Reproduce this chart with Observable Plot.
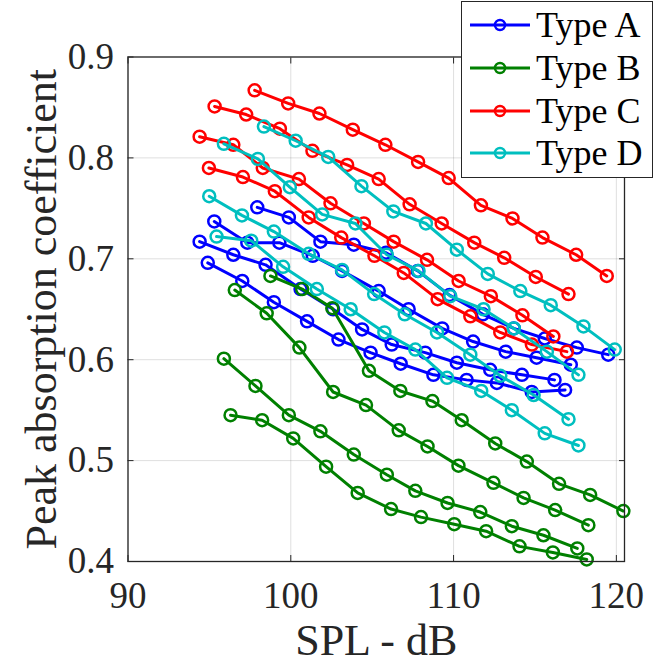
<!DOCTYPE html>
<html>
<head>
<meta charset="utf-8">
<script src="https://cdn.jsdelivr.net/npm/d3@7"></script>
<script src="https://cdn.jsdelivr.net/npm/@observablehq/plot@0.6"></script>
<style>
body{margin:0;background:#fff;}
#wrap{position:relative;width:654px;height:670px;}
#chart svg, #chart svg text{font-family:"Liberation Serif",serif !important;}
#legend{position:absolute;left:461px;top:1px;width:192px;height:177px;border:1.3px solid #262626;background:#fff;box-sizing:border-box;font-family:"Liberation Serif",serif;color:#000;}
.row{position:absolute;left:0;height:40px;display:flex;align-items:center;white-space:nowrap;}
.row span{font-size:36px;margin-left:4px;}
</style>
</head>
<body>
<div id="wrap"><div id="chart"></div><div id="legend"></div></div>
<script>
const types = ["Type A", "Type B", "Type C", "Type D"];
const colors = ["#0000ff", "#008000", "#ff0000", "#00bfbf"];
const xTicks = [90, 100, 110, 120];
const yTicks = [0.4, 0.5, 0.6, 0.7, 0.8, 0.9];

// Type A (blue)
const typeA_spl = [
  [97.94, 99.88, 101.82, 103.87, 105.85, 107.8, 109.75, 111.8, 113.7, 115.6, 117.57, 119.5],
  [95.3, 97.33, 99.3, 101.35, 103.15, 105.4, 107.24, 109.3, 111.2, 113.2, 115.1, 117.2],
  [94.4, 96.47, 98.45, 100.6, 102.6, 104.38, 106.2, 108.26, 110.2, 112.25, 114.2, 116.2],
  [94.9, 97.02, 98.96, 101.0, 102.93, 104.9, 106.75, 108.76, 110.8, 112.66, 114.8, 116.85]
];
const typeA_abs = [
  [0.751, 0.741, 0.717, 0.714, 0.706, 0.688, 0.664, 0.645, 0.631, 0.621, 0.612, 0.605],
  [0.737, 0.716, 0.716, 0.703, 0.688, 0.668, 0.650, 0.631, 0.618, 0.608, 0.602, 0.595],
  [0.717, 0.704, 0.694, 0.670, 0.650, 0.630, 0.615, 0.607, 0.597, 0.590, 0.585, 0.580],
  [0.696, 0.678, 0.657, 0.638, 0.620, 0.607, 0.596, 0.585, 0.580, 0.577, 0.568, 0.570]
];
// Type B (green)
const typeB_spl = [
  [98.75, 100.7, 102.55, 104.8, 106.73, 108.7, 110.5, 112.56, 114.5, 116.48, 118.39, 120.43],
  [96.56, 98.52, 100.53, 102.6, 104.62, 106.63, 108.4, 110.3, 112.45, 114.3, 116.24, 118.28],
  [95.89, 97.83, 99.88, 101.82, 103.87, 105.9, 107.65, 109.63, 111.64, 113.58, 115.52, 117.6],
  [96.3, 98.24, 100.15, 102.17, 104.11, 106.16, 108.0, 110.04, 112.0, 114.05, 116.1, 118.18]
];
const typeB_abs = [
  [0.683, 0.670, 0.651, 0.589, 0.569, 0.559, 0.540, 0.517, 0.499, 0.477, 0.466, 0.450],
  [0.669, 0.646, 0.612, 0.568, 0.555, 0.530, 0.514, 0.495, 0.478, 0.463, 0.451, 0.436],
  [0.601, 0.574, 0.545, 0.529, 0.506, 0.486, 0.470, 0.458, 0.449, 0.435, 0.426, 0.413],
  [0.545, 0.540, 0.522, 0.494, 0.468, 0.452, 0.444, 0.437, 0.430, 0.415, 0.409, 0.402]
];
// Type C (red)
const typeC_spl = [
  [97.78, 99.84, 101.76, 103.81, 105.81, 107.82, 109.7, 111.68, 113.62, 115.46, 117.53, 119.41],
  [95.32, 97.26, 99.33, 101.33, 103.46, 105.4, 107.3, 109.27, 111.27, 113.11, 115.05, 117.06],
  [94.4, 96.47, 98.28, 100.5, 102.44, 104.49, 106.32, 108.37, 110.31, 112.29, 114.23, 116.13],
  [94.97, 97.06, 99.02, 101.1, 103.1, 105.14, 106.94, 109.02, 111.03, 112.87, 114.81, 116.96]
];
const typeC_abs = [
  [0.867, 0.854, 0.844, 0.828, 0.813, 0.796, 0.780, 0.753, 0.740, 0.721, 0.704, 0.683],
  [0.851, 0.843, 0.829, 0.807, 0.793, 0.779, 0.754, 0.735, 0.716, 0.701, 0.682, 0.665],
  [0.821, 0.813, 0.790, 0.779, 0.755, 0.735, 0.717, 0.699, 0.678, 0.663, 0.644, 0.623],
  [0.790, 0.781, 0.767, 0.741, 0.721, 0.703, 0.686, 0.660, 0.643, 0.627, 0.615, 0.608]
];
// Type D (cyan)
const typeD_spl = [
  [98.35, 100.3, 102.3, 104.34, 106.3, 108.3, 110.2, 112.1, 114.1, 115.97, 117.98, 119.9],
  [95.89, 97.98, 99.94, 101.93, 103.97, 105.9, 107.85, 109.8, 111.84, 113.7, 115.73, 117.67],
  [94.99, 97.0, 98.96, 101.1, 103.15, 105.12, 107.0, 108.98, 111.03, 112.87, 114.92, 117.06],
  [95.44, 97.57, 99.53, 101.6, 103.68, 105.75, 107.65, 109.6, 111.7, 113.58, 115.6, 117.67]
];
const typeD_abs = [
  [0.831, 0.817, 0.801, 0.772, 0.747, 0.735, 0.709, 0.685, 0.668, 0.654, 0.633, 0.610],
  [0.814, 0.799, 0.771, 0.744, 0.735, 0.704, 0.688, 0.663, 0.650, 0.631, 0.608, 0.585],
  [0.762, 0.743, 0.727, 0.705, 0.689, 0.665, 0.645, 0.627, 0.605, 0.584, 0.565, 0.541],
  [0.722, 0.718, 0.692, 0.670, 0.650, 0.627, 0.610, 0.582, 0.569, 0.550, 0.527, 0.515]
];

const splSets = [typeA_spl, typeB_spl, typeC_spl, typeD_spl];
const absSets = [typeA_abs, typeB_abs, typeC_abs, typeD_abs];

const FONT = '"Liberation Serif", serif';
const INK = "#262626";

// build one table per series, in plotting order
const seriesList = [];
types.forEach((t, ti) => {
  splSets[ti].forEach((xs, si) => {
    seriesList.push(xs.map((x, j) => ({type: t, series: t + " " + (si + 1), spl: x, abs: absSets[ti][si][j]})));
  });
});

const seriesMarks = seriesList.flatMap(rows => [
  Plot.line(rows, {x: "spl", y: "abs", stroke: "type", strokeWidth: 3}),
  Plot.dot(rows, {x: "spl", y: "abs", stroke: "type", r: 6, strokeWidth: 2.5, fill: "none"})
]);

const chart = Plot.plot({
  width: 654,
  height: 670,
  marginLeft: 127.5,
  marginRight: 30,
  marginTop: 56.5,
  marginBottom: 109,
  style: {fontFamily: FONT, background: "#fff", overflow: "visible"},
  x: {domain: [90, 120.5]},
  y: {domain: [0.4, 0.9]},
  color: {domain: types, range: colors},
  marks: [
    Plot.gridX(xTicks, {stroke: INK, strokeOpacity: 0.15, strokeWidth: 1}),
    Plot.gridY(yTicks, {stroke: INK, strokeOpacity: 0.15, strokeWidth: 1}),
    ...seriesMarks,
    Plot.frame({stroke: INK, strokeWidth: 1.3}),
    Plot.axisX(xTicks, {anchor: "bottom", tickSize: 0, tickPadding: 20, fontSize: 37, fill: INK, label: null}),
    Plot.axisX(xTicks, {anchor: "bottom", tickSize: -6, fill: "none", stroke: INK, label: null}),
    Plot.axisX(xTicks, {anchor: "top", tickSize: -6, fill: "none", stroke: INK, label: null}),
    Plot.axisY(yTicks, {anchor: "left", tickSize: 0, tickPadding: 14, fontSize: 37, fill: INK, tickFormat: d3.format(".1f"), label: null}),
    Plot.axisY(yTicks, {anchor: "left", tickSize: -6, fill: "none", stroke: INK, label: null}),
    Plot.axisY(yTicks, {anchor: "right", tickSize: -6, fill: "none", stroke: INK, label: null}),
    Plot.text(["SPL - dB"], {frameAnchor: "bottom", dy: 79, fontSize: 44, fontFamily: FONT, fill: INK, textAnchor: "middle", lineAnchor: "middle"}),
    Plot.text(["Peak absorption coefficient"], {frameAnchor: "left", dx: -86, rotate: -90, fontSize: 44, fontFamily: FONT, fill: INK, textAnchor: "middle", lineAnchor: "middle"})
  ]
});
document.getElementById("chart").appendChild(chart);

// legend
const legend = document.getElementById("legend");
const rowCenters = [23, 66, 109, 151];
types.forEach((t, i) => {
  const row = document.createElement("div");
  row.className = "row";
  row.style.top = (rowCenters[i] - 20) + "px";
  const svg = d3.create("svg").attr("width", 70).attr("height", 20);
  svg.append("line").attr("x1", 8).attr("x2", 68).attr("y1", 10).attr("y2", 10).attr("stroke", colors[i]).attr("stroke-width", 3);
  svg.append("circle").attr("cx", 38).attr("cy", 10).attr("r", 5).attr("fill", "none").attr("stroke", colors[i]).attr("stroke-width", 2.5);
  row.appendChild(svg.node());
  const span = document.createElement("span");
  span.textContent = t;
  row.appendChild(span);
  legend.appendChild(row);
});
</script>
</body>
</html>
